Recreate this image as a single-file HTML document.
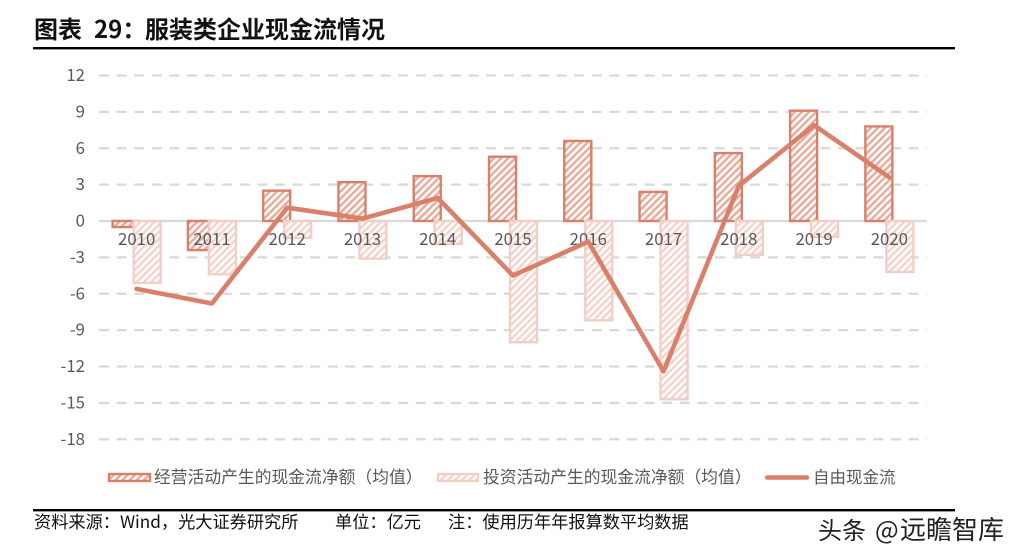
<!DOCTYPE html>
<html>
<head>
<meta charset="utf-8">
<title>服装类企业现金流情况</title>
<style>
html,body{margin:0;padding:0;background:#fff;}
body{width:1021px;height:559px;overflow:hidden;position:relative;font-family:"Noto Sans CJK SC","Liberation Sans",sans-serif;}
svg{position:absolute;left:0;top:0;}
text{font-family:"Noto Sans CJK SC","Liberation Sans",sans-serif;}
</style>
</head>
<body>
<svg id="chart" width="1021" height="559" viewBox="0 0 1021 559">
  <defs>
    <pattern id="hatch-op" width="5" height="5" patternUnits="userSpaceOnUse" patternTransform="rotate(45)">
      <rect width="5" height="5" fill="#fff"/>
      <rect width="2.4" height="5" fill="#eaa999"/>
    </pattern>
    <pattern id="hatch-inv" width="5" height="5" patternUnits="userSpaceOnUse" patternTransform="rotate(45)">
      <rect width="5" height="5" fill="#fff"/>
      <rect width="2.4" height="5" fill="#f5d3cb"/>
    </pattern>
  </defs>
  <g font-size="24" font-weight="700" fill="#111">
    <text x="34" y="38">图表</text>
    <text x="94" y="38">29：</text>
    <text x="145" y="38">服装类企业现金流情况</text>
  </g>
  <rect x="33" y="47" width="922" height="2.4" fill="#000"/>
  <g id="grid"></g>
  <g id="bars-op"></g>
  <g id="bars-inv"></g>
  <g id="x-labels"></g>
  <g id="free-line"></g>
  <g id="y-labels"></g>

  <g>
    <g>
      <rect x="109" y="474" width="41" height="7" fill="url(#hatch-op)" stroke="#d9806a" stroke-width="2.4"/>
      <text x="154" y="483" font-size="16.8" fill="#595959">经营活动产生的现金流净额（均值）</text>
    </g>
    <g>
      <rect x="438" y="474" width="40" height="7" fill="url(#hatch-inv)" stroke="#f1cfc7" stroke-width="2.4"/>
      <text x="483" y="483" font-size="16.8" fill="#595959">投资活动产生的现金流净额（均值）</text>
    </g>
    <g>
      <line x1="767" y1="477.5" x2="807" y2="477.5" stroke="#d9806a" stroke-width="4.4" stroke-linecap="round"/>
      <text x="813" y="483" font-size="16.5" fill="#595959">自由现金流</text>
    </g>
  </g>

  <rect x="33" y="509" width="922" height="2.4" fill="#000"/>
  <text x="34" y="528" font-size="17.2" fill="#111">资料来源：Wind，光大证券研究所</text>
  <text x="335" y="528" font-size="17.2" fill="#111">单位：亿元</text>
  <text x="448" y="528" font-size="17.2" fill="#111">注：使用历年年报算数平均数据</text>
  <g fill="#222">
    <text x="818" y="539" font-size="24">头条</text>
    <text x="875" y="539" font-size="25">@</text>
    <text x="900" y="539" font-size="26">远瞻智库</text>
  </g>
</svg>
<script>
const categories = ['2010','2011','2012','2013','2014','2015','2016','2017','2018','2019','2020'];
const operatingCashFlow = [-0.5,-2.4,2.5,3.2,3.7,5.3,6.6,2.4,5.6,9.1,7.8];
const investingCashFlow = [-5.1,-4.4,-1.4,-3.1,-1.9,-10,-8.2,-14.7,-2.8,-1.3,-4.2];
const freeCashFlow = [-5.6,-6.8,1.1,0.2,1.9,-4.5,-1.7,-12.4,2.9,7.9,3.6];
const yTicks = [12,9,6,3,0,-3,-6,-9,-12,-15,-18];

const NS = 'http://www.w3.org/2000/svg';
function xCenter(i){ return 99 + (i + 0.5) * (828 / categories.length); }
function yPos(v){ return 221 - v * 12.125; }
function make(tag, attrs, parent){
  const el = document.createElementNS(NS, tag);
  for (const k in attrs) el.setAttribute(k, attrs[k]);
  parent.appendChild(el);
  return el;
}

const grid = document.getElementById('grid');
const yLabels = document.getElementById('y-labels');
yTicks.forEach(function(t){
  const line = make('line', {x1:99, x2:927, y1:yPos(t), y2:yPos(t), stroke:'#d9d9d9', 'stroke-width':2.2, 'stroke-dasharray': t === 0 ? 'none' : '10 7.6'}, grid);
  
  
  const label = make('text', {x:85, y:yPos(t) + 5.5, 'text-anchor':'end', 'font-size':16.8, fill:'#595959'}, yLabels);
  label.textContent = String(t);
  
  
});

function drawBars(values, groupId, offset, fill, stroke, name){
  const group = document.getElementById(groupId);
  values.forEach(function(v, i){
    const top = Math.min(yPos(v), yPos(0));
    const h = Math.abs(yPos(v) - yPos(0));
    const bar = make('rect', {x:xCenter(i) + offset, y:top, width:27, height:h, fill:fill, stroke:stroke, 'stroke-width':2.4}, group);
    
    
  });
}
drawBars(operatingCashFlow, 'bars-op', -24, 'url(#hatch-op)', '#d9806a', 'operating-cash-flow-bar');
drawBars(investingCashFlow, 'bars-inv', -3, 'url(#hatch-inv)', '#f1cfc7', 'investing-cash-flow-bar');

const xLabels = document.getElementById('x-labels');
categories.forEach(function(c, i){
  const label = make('text', {x:xCenter(i), y:245, 'text-anchor':'middle', 'font-size':16.8, fill:'#595959'}, xLabels);
  label.textContent = c;
  
  
});

const linePoints = freeCashFlow.map(function(v, i){ return xCenter(i) + ',' + yPos(v); }).join(' ');
const freeLine = make('polyline', {points:linePoints, fill:'none', stroke:'#d9806a', 'stroke-width':4.6, 'stroke-linecap':'round', 'stroke-linejoin':'round'}, document.getElementById('free-line'));


</script>
</body>
</html>
